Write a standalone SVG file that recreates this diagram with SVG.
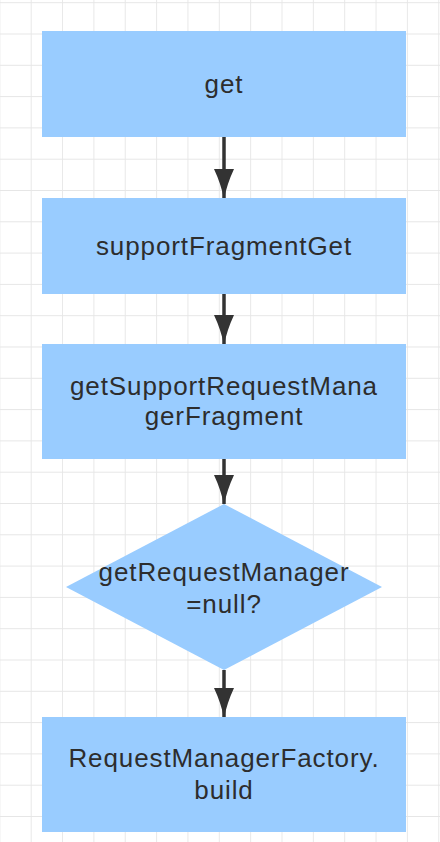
<svg xmlns="http://www.w3.org/2000/svg" width="440" height="842" viewBox="0 0 440 842">
  <style>
    .node { fill: #99CCFF; stroke: none; }
    .label { font-family: "Liberation Sans", Arial, sans-serif; font-size: 26px; letter-spacing: 0.9px; fill: #2d2d2d; text-anchor: middle; }
    .edge { stroke: #333333; stroke-width: 3.5; fill: none; }
  </style>
  <defs>
    <pattern id="grid" patternUnits="userSpaceOnUse" x="30.7" y="2.2" width="31.35" height="31.3">
      <path d="M0,0 V31.3 M0,0 H31.35" stroke="#e6e6e6" stroke-width="1.8" fill="none"/>
    </pattern>
    <marker id="arrow" markerUnits="userSpaceOnUse" viewBox="0 0 30 20" refX="29" refY="10" markerWidth="30" markerHeight="20" orient="auto">
      <path d="M0,0 Q15,7 30,10 Q15,13 0,20 Z" fill="#333333"/>
    </marker>
  </defs>
  <rect x="0" y="0" width="440" height="842" fill="#ffffff"/>
  <rect x="0" y="0" width="440" height="842" fill="url(#grid)"/>

  <g id="connectors">
    <line class="edge" x1="224" y1="137" x2="224" y2="198" marker-end="url(#arrow)"/>
    <line class="edge" x1="224" y1="294" x2="224" y2="344" marker-end="url(#arrow)"/>
    <line class="edge" x1="224" y1="459" x2="224" y2="504" marker-end="url(#arrow)"/>
    <line class="edge" x1="224" y1="670" x2="224" y2="717" marker-end="url(#arrow)"/>
  </g>

  <g id="node-get">
    <rect class="node" x="42" y="31" width="364" height="106"/>
    <text class="label" x="224" y="93">get</text>
  </g>
  <g id="node-supportFragmentGet">
    <rect class="node" x="42" y="198" width="364" height="96"/>
    <text class="label" x="224" y="255">supportFragmentGet</text>
  </g>
  <g id="node-getSupportRequestManagerFragment">
    <rect class="node" x="42" y="344" width="364" height="115"/>
    <text class="label" x="224" y="395">getSupportRequestMana</text>
    <text class="label" x="224" y="425">gerFragment</text>
  </g>
  <g id="node-decision">
    <polygon class="node" points="224,504 382,587 224,670 66,587"/>
    <text class="label" x="224" y="581">getRequestManager</text>
    <text class="label" x="224" y="613">=null?</text>
  </g>
  <g id="node-build">
    <rect class="node" x="42" y="717" width="364" height="115"/>
    <text class="label" x="224" y="767">RequestManagerFactory.</text>
    <text class="label" x="224" y="799">build</text>
  </g>
</svg>
